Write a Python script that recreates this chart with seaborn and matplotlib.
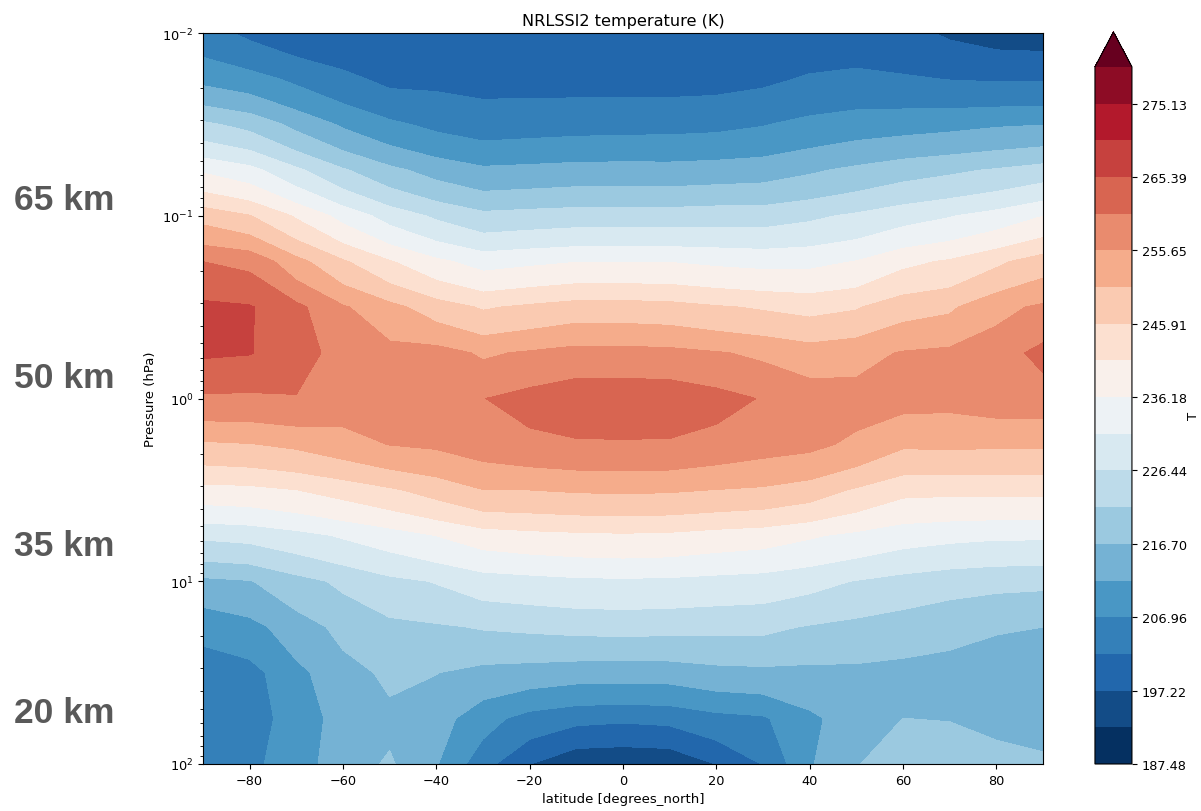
import numpy as np
import matplotlib
matplotlib.use("Agg")
import matplotlib.pyplot as plt
import matplotlib.colors as mcolors
import seaborn as sns

# Zonal mean temperature (K)
latitude = [-90, -80, -70, -60, -50, -40, -30, -20, -10, 0, 10, 20, 30, 40, 50, 60, 70, 80, 90]
pressure = [0.01, 0.01778, 0.03162, 0.05623, 0.1, 0.1778, 0.3162, 0.5623, 1.0,
            1.778, 3.162, 5.623, 10.0, 17.78, 31.62, 56.23, 100.0]

# one list per latitude, from top (0.01 hPa) down to 100 hPa
temp_by_lat = [
    [204.0, 210.4, 222.5, 235.5, 249.0, 260.5, 266.5, 266.0, 259.7, 250.0, 239.3, 227.3, 215.5, 208.1, 204.8, 203.6, 204.0],
    [201.1, 208.7, 220.0, 232.9, 246.1, 259.3, 265.8, 265.6, 259.5, 250.6, 239.7, 228.0, 216.4, 210.2, 205.2, 204.8, 205.8],
    [198.9, 205.9, 215.3, 227.4, 240.4, 252.4, 261.8, 263.0, 260.2, 251.7, 241.0, 229.7, 219.8, 214.4, 210.5, 209.0, 209.5],
    [198.5, 203.2, 211.1, 222.1, 234.5, 246.5, 256.2, 258.3, 258.0, 253.7, 242.9, 231.8, 222.5, 218.0, 215.0, 213.8, 214.5],
    [199.5, 200.9, 207.9, 217.9, 229.3, 241.4, 252.3, 257.2, 258.0, 255.8, 245.2, 233.8, 225.2, 220.3, 217.6, 215.6, 217.3],
    [199.2, 201.0, 205.8, 214.8, 225.6, 237.2, 248.3, 257.5, 259.3, 256.4, 247.8, 236.2, 226.7, 221.0, 216.8, 214.0, 212.2],
    [199.0, 200.6, 204.5, 212.7, 222.8, 234.3, 245.4, 255.0, 260.4, 257.9, 250.7, 238.6, 228.9, 221.9, 215.2, 208.8, 204.0],
    [198.8, 200.5, 204.9, 213.1, 223.4, 235.2, 246.8, 256.2, 262.3, 259.2, 250.8, 239.5, 229.6, 222.4, 214.6, 205.1, 197.3],
    [198.6, 200.4, 205.2, 213.6, 223.9, 236.0, 248.1, 257.4, 263.8, 259.9, 251.3, 240.0, 230.3, 222.9, 213.9, 203.4, 193.0],
    [198.5, 200.3, 205.4, 213.7, 223.9, 236.0, 248.1, 257.3, 263.9, 260.0, 251.5, 240.3, 230.5, 223.1, 213.8, 202.9, 192.6],
    [198.6, 200.3, 205.5, 213.6, 223.9, 236.0, 247.7, 257.0, 263.8, 259.9, 251.3, 240.0, 230.3, 222.9, 213.9, 203.4, 193.0],
    [198.8, 200.5, 205.8, 214.0, 224.3, 235.2, 246.4, 256.0, 262.3, 258.7, 250.7, 239.0, 229.7, 222.7, 215.1, 205.4, 197.3],
    [199.3, 201.2, 206.7, 214.5, 224.2, 234.7, 245.4, 254.8, 260.2, 257.5, 250.1, 238.3, 229.2, 222.6, 215.5, 206.3, 202.3],
    [199.5, 202.5, 208.3, 216.0, 225.5, 234.9, 244.4, 253.1, 258.3, 256.8, 248.5, 236.7, 227.9, 221.2, 215.4, 210.8, 211.3],
    [199.8, 203.0, 209.4, 217.7, 227.2, 236.3, 245.5, 254.1, 257.4, 254.7, 245.3, 235.0, 226.2, 220.1, 215.6, 214.3, 216.5],
    [198.5, 202.6, 209.9, 219.5, 229.3, 239.8, 248.8, 256.0, 257.2, 251.5, 242.3, 233.3, 224.7, 219.0, 215.3, 216.7, 218.5],
    [196.6, 201.9, 210.5, 220.7, 231.0, 241.6, 250.0, 256.7, 257.0, 251.6, 242.1, 232.5, 223.5, 217.8, 215.3, 216.6, 218.3],
    [195.3, 201.6, 211.3, 222.0, 233.1, 244.9, 254.3, 258.2, 258.0, 251.5, 242.1, 232.0, 222.8, 217.0, 214.8, 215.8, 218.0],
    [195.0, 201.6, 211.7, 223.6, 236.1, 248.3, 256.5, 262.0, 258.0, 251.5, 242.1, 232.0, 222.5, 216.7, 214.0, 214.8, 217.6],
]

cbar_labels = ["187.48", "197.22", "206.96", "216.70", "226.44",
               "236.18", "245.91", "255.65", "265.39", "275.13"]
alt_labels = ["65 km", "50 km", "35 km", "20 km"]

# contour levels, 20 edges from 187.48 to 280.00
levels = np.linspace(187.48, 280.0, 20)

sns.set_style("ticks", {"axes.edgecolor": "black", "xtick.color": "black",
                        "ytick.color": "black", "text.color": "black",
                        "axes.labelcolor": "black"})
plt.rcParams["font.family"] = ["DejaVu Sans"]

temp = np.array(temp_by_lat).T

# discrete colours: one per band plus one for the "max" arrow
rdbu = sns.color_palette("RdBu_r", as_cmap=True)
band_colors = rdbu(np.linspace(0, 1, len(levels)))
cmap, norm = mcolors.from_levels_and_colors(levels, band_colors, extend="max")

fig = plt.figure(figsize=(12.01, 8.12), dpi=100)
ax = fig.add_axes([0.1690, 0.0579, 0.6994, 0.9002])
cax = fig.add_axes([0.9117, 0.0579, 0.0308, 0.9015])

cf = ax.contourf(latitude, pressure, temp, levels=levels, cmap=cmap, norm=norm, extend="max")
ax.set_yscale("log")
ax.set_ylim(100, 0.01)
ax.set_xlim(-90, 90)
ax.set_xticks([-80, -60, -40, -20, 0, 20, 40, 60, 80])
ax.tick_params(labelsize=9.3)
ax.set_xlabel("latitude [degrees_north]", fontsize=9.5)
ax.set_ylabel("Pressure (hPa)", fontsize=9.5)
ax.set_title("NRLSSI2 temperature (K)", fontsize=11.6)

cbar = fig.colorbar(cf, cax=cax, ticks=levels[::2])
cbar.ax.set_yticklabels(cbar_labels)
cbar.minorticks_off()
cbar.set_label("T", fontsize=9.5, labelpad=0)
cbar.ax.tick_params(labelsize=9.3)

# altitude hints on the left
alt_y = [200, 379, 546, 714]
for lab, py in zip(alt_labels, alt_y):
    fig.text(14 / 1201, 1 - py / 812, lab, ha="left", va="center",
             fontsize=25.5, fontweight="bold", color="#595959",
             family=["Liberation Sans", "DejaVu Sans"])

fig.savefig("out.png", dpi=100)
